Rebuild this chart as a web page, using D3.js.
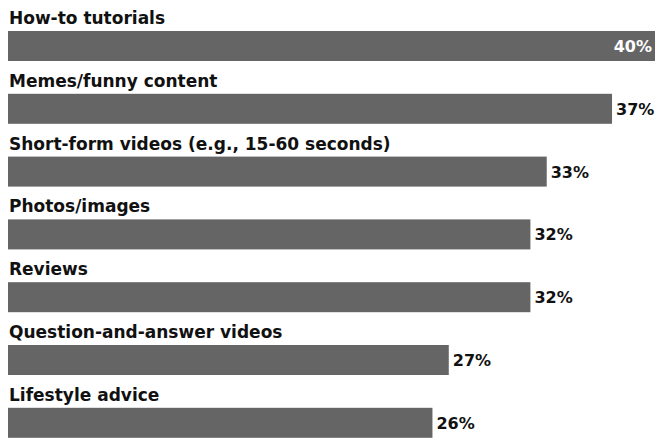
<!DOCTYPE html>
<html>
<head>
<meta charset="utf-8">
<script src="https://cdn.jsdelivr.net/npm/d3@7"></script>
<style>
  body { margin: 0; background: #fff; overflow: hidden; }
  text { font-family: "DejaVu Sans", Verdana, sans-serif; font-weight: bold; }
</style>
</head>
<body>
<div id="chart"></div>
<script>
const categories = [
  'How-to tutorials',
  'Memes/funny content',
  'Short-form videos (e.g., 15-60 seconds)',
  'Photos/images',
  'Reviews',
  'Question-and-answer videos',
  'Lifestyle advice',
];
const values = [40, 37, 33, 32, 32, 27, 26];

const width = 655;
const height = 438;
const left = 8;
const barHeight = 30;
const rowStep = 62.8;

const svg = d3.select('#chart')
  .append('svg')
  .attr('width', width)
  .attr('height', height);

// top bar runs off the right edge of the picture
const x = d3.scaleLinear()
  .domain([0, 40])
  .range([left, 661]);

const y = d3.scaleBand()
  .domain(categories)
  .range([0, rowStep * categories.length]);

const rows = svg.selectAll('g.row')
  .data(categories)
  .enter()
  .append('g')
  .attr('class', 'row')
  .attr('transform', (d) => `translate(0,${y(d)})`);

rows.append('text')
  .attr('x', left + 1)
  .attr('y', 24)
  .attr('font-size', 17)
  .attr('fill', '#111')
  .text((d) => d);

rows.append('rect')
  .attr('x', left)
  .attr('y', 31)
  .attr('height', barHeight)
  .attr('width', (d, i) => x(values[i]) - left)
  .attr('fill', '#656565');

rows.append('text')
  .attr('x', (d, i) => (values[i] === 40 ? width - 3 : x(values[i]) + 4))
  .attr('y', 52)
  .attr('font-size', 16)
  .attr('text-anchor', (d, i) => (values[i] === 40 ? 'end' : 'start'))
  .attr('fill', (d, i) => (values[i] === 40 ? '#fff' : '#111'))
  .text((d, i) => `${values[i]}%`);
</script>
</body>
</html>
